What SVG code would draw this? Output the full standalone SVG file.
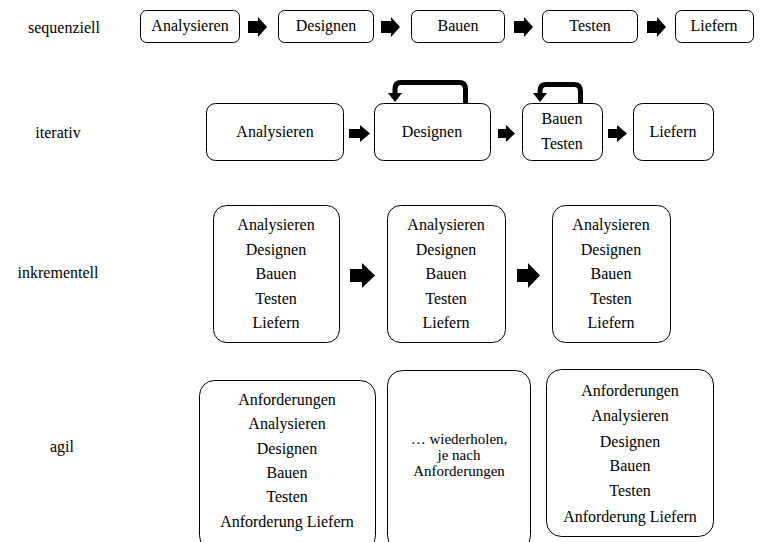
<svg xmlns="http://www.w3.org/2000/svg" width="763" height="542" viewBox="0 0 763 542">
<style>
  .box { fill: #fff; stroke: #000; stroke-width: 1; }
  .t { font-family: "Liberation Serif", "Times New Roman", serif; font-size: 16px; fill: #000; text-anchor: middle; }
  .sm { font-size: 15px; }
  .blk { fill: #000; stroke: none; }
  .loop { fill: none; stroke: #000; stroke-width: 5; stroke-linejoin: round; }
</style>
<rect width="763" height="542" fill="#fff"/>

<g id="labels">
  <text class="t" x="64" y="33">sequenziell</text>
  <text class="t" x="58" y="138">iterativ</text>
  <text class="t" x="58" y="278">inkrementell</text>
  <text class="t" x="62" y="452">agil</text>
</g>

<g id="seq-analysieren"><rect class="box" x="140.5" y="10.5" width="99" height="32" rx="6"/><text class="t" x="190" y="31">Analysieren</text></g>
<g id="seq-designen"><rect class="box" x="278.5" y="10.5" width="95" height="32" rx="6"/><text class="t" x="326" y="31">Designen</text></g>
<g id="seq-bauen"><rect class="box" x="411.5" y="10.5" width="93" height="32" rx="6"/><text class="t" x="458" y="31">Bauen</text></g>
<g id="seq-testen"><rect class="box" x="542.5" y="10.5" width="95" height="32" rx="6"/><text class="t" x="590" y="31">Testen</text></g>
<g id="seq-liefern"><rect class="box" x="675.5" y="10.5" width="78" height="32" rx="6"/><text class="t" x="714" y="31">Liefern</text></g>

<g id="it-analysieren"><rect class="box" x="206.5" y="103.5" width="137" height="57" rx="9"/><text class="t" x="275" y="137">Analysieren</text></g>
<g id="it-designen"><rect class="box" x="374.5" y="103.5" width="116" height="57" rx="9"/><text class="t" x="432" y="137">Designen</text></g>
<g id="it-bauentesten"><rect class="box" x="522.5" y="103.5" width="80" height="57" rx="9"/><text class="t" x="562" y="124">Bauen</text><text class="t" x="562" y="149">Testen</text></g>
<g id="it-liefern"><rect class="box" x="633.5" y="103.5" width="80" height="57" rx="9"/><text class="t" x="673" y="137">Liefern</text></g>

<g id="ink-1"><rect class="box" x="213.5" y="205.5" width="126" height="137" rx="13"/>
  <text class="t" x="276" y="230">Analysieren</text><text class="t" x="276" y="255">Designen</text><text class="t" x="276" y="279">Bauen</text><text class="t" x="276" y="304">Testen</text><text class="t" x="276" y="328">Liefern</text></g>
<g id="ink-2"><rect class="box" x="387.5" y="205.5" width="118" height="137" rx="13"/>
  <text class="t" x="446" y="230">Analysieren</text><text class="t" x="446" y="255">Designen</text><text class="t" x="446" y="279">Bauen</text><text class="t" x="446" y="304">Testen</text><text class="t" x="446" y="328">Liefern</text></g>
<g id="ink-3"><rect class="box" x="552.5" y="205.5" width="118" height="137" rx="13"/>
  <text class="t" x="611" y="230">Analysieren</text><text class="t" x="611" y="255">Designen</text><text class="t" x="611" y="279">Bauen</text><text class="t" x="611" y="304">Testen</text><text class="t" x="611" y="328">Liefern</text></g>

<g id="agil-1"><rect class="box" x="199.5" y="380.5" width="176" height="170" rx="15"/>
  <text class="t" x="287" y="405">Anforderungen</text><text class="t" x="287" y="429">Analysieren</text><text class="t" x="287" y="454">Designen</text><text class="t" x="287" y="478">Bauen</text><text class="t" x="287" y="502">Testen</text><text class="t" x="287" y="527">Anforderung Liefern</text></g>
<g id="agil-2"><rect class="box" x="387.5" y="370.5" width="143" height="180" rx="15"/>
  <text class="t sm" x="459" y="444">… wiederholen,</text><text class="t sm" x="459" y="460">je nach</text><text class="t sm" x="459" y="476">Anforderungen</text></g>
<g id="agil-3"><rect class="box" x="546.5" y="369.5" width="167" height="167" rx="15"/>
  <text class="t" x="630" y="396">Anforderungen</text><text class="t" x="630" y="421">Analysieren</text><text class="t" x="630" y="447">Designen</text><text class="t" x="630" y="471">Bauen</text><text class="t" x="630" y="496">Testen</text><text class="t" x="630" y="522">Anforderung Liefern</text></g>

<g id="connectors">
  <polygon class="blk" points="248,21 258,21 258,17 267,27 258,37 258,33 248,33"/>
  <polygon class="blk" points="381,21 391,21 391,17 400,27 391,37 391,33 381,33"/>
  <polygon class="blk" points="514,21 524,21 524,17 533,27 524,37 524,33 514,33"/>
  <polygon class="blk" points="647,21 657,21 657,17 666,27 657,37 657,33 647,33"/>
  <polygon class="blk" points="349,129 360,129 360,125 370,133.5 360,142 360,138 349,138"/>
  <polygon class="blk" points="498,129 506,129 506,125 515,133.5 506,142 506,138 498,138"/>
  <polygon class="blk" points="608,129 617,129 617,125 627,133.5 617,142 617,138 608,138"/>
  <path class="loop" d="M465.5,103 V89 Q465.5,82.5 459,82.5 H401 Q395,82.5 395,89 V94"/>
  <polygon class="blk" points="388,93 402,93 395,102"/>
  <path class="loop" d="M580.5,103 V91 Q580.5,84.5 574,84.5 H546 Q540,84.5 540,91 V94"/>
  <polygon class="blk" points="533,93 547,93 540,102"/>
  <polygon class="blk" points="350,269 362,269 362,263 375,275.5 362,288 362,282 350,282"/>
  <polygon class="blk" points="517,269 528,269 528,263 540,275.5 528,288 528,282 517,282"/>
</g>
</svg>
